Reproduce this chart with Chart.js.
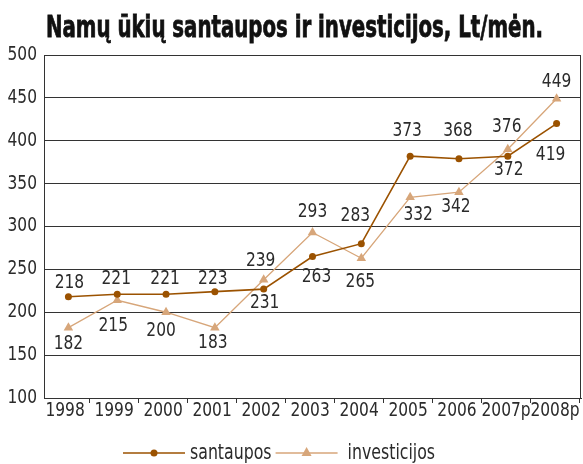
<!DOCTYPE html>
<html>
<head>
<meta charset="utf-8">
<script src="https://cdn.jsdelivr.net/npm/chart.js@4.4.1/dist/chart.umd.min.js"></script>
<style>
  html, body { margin: 0; padding: 0; background: #fff; }
  #wrap { width: 583px; height: 464px; }
</style>
</head>
<body>
<div id="wrap"><canvas id="chart" width="583" height="464"></canvas></div>
<script>
// chart data
var years = ['1998', '1999', '2000', '2001', '2002', '2003', '2004', '2005', '2006', '2007p', '2008p'];
var santaupos = [218, 221, 221, 224, 227, 265, 280, 382, 379, 382, 420];
var investicijos = [182, 214, 200, 182, 238, 293, 263, 334, 340, 390, 449];
// printed value labels as shown in the picture
var santauposLabels = ['218', '221', '221', '223', '231', '263', '283', '373', '368', '372', '419'];
var investicijosLabels = ['182', '215', '200', '183', '239', '293', '265', '332', '342', '376', '449'];
var yTicks = { min: 100, max: 500, step: 50 };

var titleText = 'Namų ūkių santaupos ir investicijos, Lt/mėn.';
var narrow = '"DejaVu Sans Condensed", "Liberation Sans Narrow", sans-serif';
var textColor = '#2b2b2b';

// where each value label sits relative to its point, in pixels [dx, dy]
var labelShift = [
  [[1, -14], [-1, -15], [-1, -15], [-2, -13], [1, 14], [4, 21], [-6, -28], [-3, -25], [-1, -28], [1, 14], [-6, 31]],
  [[0, 16], [-4, 26], [-5, 19], [-2, 15], [-3, -19], [0, -20], [-1, 24], [8, 18], [-3, 15], [-1, -22], [0, -17]]
];

// horizontal squeeze so digits come out about 9px wide
function squeezeFactor(ctx) {
  return 29.5 / ctx.measureText('000').width;
}

function drawSqueezed(ctx, text, x, y, sx) {
  ctx.save();
  ctx.translate(x, y);
  ctx.scale(sx, 1);
  ctx.fillText(text, 0, 0);
  ctx.restore();
}

var extrasPlugin = {
  id: 'extras',
  afterUpdate: function (chart) {
    // place the first and last category a bit asymmetric like the original
    var xs = chart.scales.x;
    xs._startValue = -0.43;
    xs._valueRange = 10.96;
  },
  afterDatasetsDraw: function (chart) {
    var ctx = chart.ctx;
    ctx.save();
    ctx.font = '19px ' + narrow;
    ctx.fillStyle = textColor;
    ctx.textAlign = 'center';
    ctx.textBaseline = 'middle';
    var sx = squeezeFactor(ctx);
    chart.data.datasets.forEach(function (ds, di) {
      var meta = chart.getDatasetMeta(di);
      meta.data.forEach(function (pt, i) {
        var s = labelShift[di][i];
        drawSqueezed(ctx, ds.valueLabels[i], pt.x + s[0], pt.y + s[1], sx);
      });
    });
    ctx.restore();
  },
  afterDraw: function (chart) {
    var ctx = chart.ctx;
    var area = chart.chartArea;
    var xs = chart.scales.x;
    var ys = chart.scales.y;
    ctx.save();
    // right border of the plot box
    var rx = Math.round(area.right) - 0.5;
    ctx.strokeStyle = '#333';
    ctx.lineWidth = 1;
    ctx.beginPath();
    ctx.moveTo(rx, area.top);
    ctx.lineTo(rx, area.bottom);
    ctx.stroke();

    // axis tick labels, narrow like the original
    ctx.font = '19px ' + narrow;
    ctx.fillStyle = textColor;
    var sx = squeezeFactor(ctx);
    ctx.textBaseline = 'middle';
    ctx.textAlign = 'right';
    ys.ticks.forEach(function (t, i) {
      drawSqueezed(ctx, String(t.value), 37, ys.getPixelForTick(i), sx);
    });
    ctx.textAlign = 'center';
    xs.ticks.forEach(function (t, i) {
      drawSqueezed(ctx, years[t.value], xs.getPixelForTick(i), 411, sx);
    });

    // title
    ctx.font = 'bold 31px ' + narrow;
    ctx.fillStyle = '#111';
    ctx.strokeStyle = '#111';
    ctx.lineWidth = 0.8;
    ctx.textAlign = 'left';
    ctx.textBaseline = 'alphabetic';
    var tw = ctx.measureText(titleText).width;
    ctx.save();
    ctx.translate(46, 37);
    ctx.scale(497 / tw, 1);
    ctx.fillText(titleText, 0, 0);
    ctx.strokeText(titleText, 0, 0);
    ctx.restore();

    // legend: line + marker + text
    var y = 453;
    var x = 123;
    ctx.font = '21px ' + narrow;
    var lsx = squeezeFactor(ctx) * 1.02;
    ctx.textBaseline = 'middle';
    ctx.textAlign = 'left';
    chart.data.datasets.forEach(function (ds, di) {
      ctx.strokeStyle = ds.borderColor;
      ctx.lineWidth = ds.borderWidth;
      ctx.beginPath();
      ctx.moveTo(x, y);
      ctx.lineTo(x + 62, y);
      ctx.stroke();
      ctx.fillStyle = ds.pointBackgroundColor;
      ctx.beginPath();
      if (ds.pointStyle === 'triangle') {
        ctx.moveTo(x + 31, y - 6);
        ctx.lineTo(x + 36, y + 3);
        ctx.lineTo(x + 26, y + 3);
        ctx.closePath();
      } else {
        ctx.arc(x + 31, y, 3.5, 0, Math.PI * 2);
      }
      ctx.fill();
      ctx.fillStyle = textColor;
      var tx = x + 67 + (di === 1 ? 5 : 0);
      drawSqueezed(ctx, ds.label, tx, y + 1, lsx);
      x = tx + ctx.measureText(ds.label).width * lsx + 4;
    });
    ctx.restore();
  }
};

new Chart(document.getElementById('chart'), {
  type: 'line',
  data: {
    labels: years,
    datasets: [{
      label: 'santaupos',
      data: santaupos,
      valueLabels: santauposLabels,
      borderColor: '#9b5200',
      backgroundColor: '#9b5200',
      pointBackgroundColor: '#9b5200',
      pointBorderWidth: 0,
      pointRadius: 3.5,
      pointStyle: 'circle',
      borderWidth: 1.6,
      tension: 0
    }, {
      label: 'investicijos',
      data: investicijos,
      valueLabels: investicijosLabels,
      borderColor: '#d7a67a',
      backgroundColor: '#d7a67a',
      pointBackgroundColor: '#d7a67a',
      pointBorderWidth: 0,
      pointRadius: 5.5,
      pointStyle: 'triangle',
      borderWidth: 1.3,
      tension: 0
    }]
  },
  options: {
    responsive: false,
    animation: false,
    layout: { autoPadding: false, padding: { top: 55, right: 2, bottom: 36, left: 0 } },
    plugins: {
      legend: { display: false },
      title: { display: false },
      tooltip: { enabled: false }
    },
    scales: {
      x: {
        offset: true,
        grid: {
          offset: true,
          drawOnChartArea: false,
          drawTicks: true,
          tickLength: 5,
          tickColor: '#333'
        },
        border: { display: true, color: '#333', width: 1 },
        ticks: { display: false, autoSkip: false },
        afterFit: function (scale) {
          scale.height = 30;
          scale.paddingLeft = 0;
          scale.paddingRight = 0;
        }
      },
      y: {
        min: yTicks.min,
        max: yTicks.max,
        grid: {
          color: '#333',
          lineWidth: 1,
          drawTicks: false
        },
        border: { display: true, color: '#333', width: 1 },
        ticks: { stepSize: yTicks.step, display: false },
        afterFit: function (scale) {
          scale.width = 44;
          scale.paddingTop = 0;
          scale.paddingBottom = 0;
        }
      }
    }
  },
  plugins: [extrasPlugin]
});
</script>
</body>
</html>
